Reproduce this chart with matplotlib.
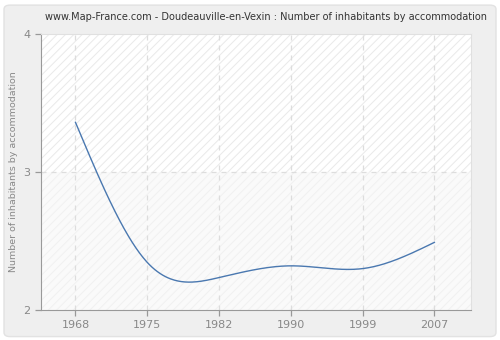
import numpy as np
import matplotlib
matplotlib.use("Agg")
import matplotlib.pyplot as plt
from matplotlib.patches import FancyBboxPatch

years = ["1968", "1975", "1982", "1990", "1999", "2007"]
values = [3.36, 2.345, 2.235, 2.32, 2.30, 2.49]
y_ticks = [2, 3, 4]

title = "www.Map-France.com - Doudeauville-en-Vexin : Number of inhabitants by accommodation"
ylabel = "Number of inhabitants by accommodation"

plt.rcParams['hatch.linewidth'] = 0.7


def natural_spline(x, y, n=400):
    # plain natural cubic spline, only used to draw the smooth line
    x = np.asarray(x, float); y = np.asarray(y, float)
    m = len(x); h = np.diff(x)
    A = np.zeros((m, m)); b = np.zeros(m)
    A[0, 0] = A[-1, -1] = 1
    for i in range(1, m - 1):
        A[i, i-1] = h[i-1]; A[i, i] = 2*(h[i-1]+h[i]); A[i, i+1] = h[i]
        b[i] = 6*((y[i+1]-y[i])/h[i] - (y[i]-y[i-1])/h[i-1])
    M = np.linalg.solve(A, b)
    xs = np.linspace(x[0], x[-1], n)
    idx = np.clip(np.searchsorted(x, xs) - 1, 0, m - 2)
    x0, x1 = x[idx], x[idx+1]; hh = x1 - x0
    ys = (M[idx]*(x1-xs)**3 + M[idx+1]*(xs-x0)**3)/(6*hh) \
        + (y[idx]/hh - M[idx]*hh/6)*(x1-xs) + (y[idx+1]/hh - M[idx+1]*hh/6)*(xs-x0)
    return xs, ys


fig = plt.figure(figsize=(5, 3.4), dpi=100, facecolor='white')
fig.patches.append(FancyBboxPatch((0.008, 0.01), 0.984, 0.975,
                                  boxstyle="round,pad=0,rounding_size=0.012",
                                  transform=fig.transFigure, facecolor='#efefef',
                                  edgecolor='#e2e2e2', lw=1, zorder=-10))

ax = fig.add_axes((41/500, 1-310/340, 430/500, 276/340))
ax.set_facecolor('#ffffff')
ax.axhspan(3, 4, facecolor='none', edgecolor='#e9e9e9', hatch='////', lw=0, zorder=0)
ax.axhspan(2, 3, facecolor='#fafafa', edgecolor='#f1f1f1', hatch='////', lw=0, zorder=0)

pos = np.arange(len(years))
xs, ys = natural_spline(pos, values)
ax.plot(xs, ys, color='#4a78b0', lw=1.0, zorder=3)

ax.set_xlim(-0.48, 5.51)
ax.set_ylim(2, 4)
ax.set_xticks(pos)
ax.set_xticklabels(years)
ax.set_yticks(y_ticks)

for p in pos:
    ax.axvline(p, color='#dddddd', lw=0.9, ls=(0, (4, 4)), zorder=1)
ax.axhline(3, color='#dddddd', lw=0.9, ls=(0, (4, 4)), zorder=1)

for s in ['top', 'right']:
    ax.spines[s].set_color('#e0e0e0')
for s in ['left', 'bottom']:
    ax.spines[s].set_color('#999999')
ax.tick_params(colors='#999999', labelcolor='#888888', labelsize=8, length=4, width=0.9)

ax.set_ylabel(ylabel, color='#888888', fontsize=6.8, labelpad=4)
fig.text(0.532, 1-17/340, title, ha='center', va='center', fontsize=7.0, color='#333333')

fig.savefig("out.png", dpi=100)
